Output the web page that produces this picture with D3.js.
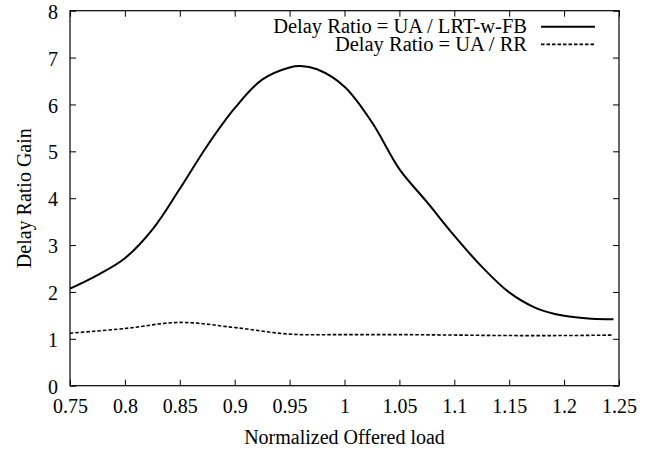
<!DOCTYPE html>
<html>
<head>
<meta charset="utf-8">
<script src="https://cdn.jsdelivr.net/npm/d3@7"></script>
</head>
<body style="margin:0;background:#fff">
<svg id="chart" width="660" height="451"></svg>
<script>
// offered load values and the two delay ratio curves
var loadLrt = [0.75, 0.775, 0.8, 0.825, 0.85, 0.875, 0.9, 0.925, 0.95, 0.96, 0.975, 1.0, 1.025, 1.05, 1.075, 1.1, 1.125, 1.15, 1.175, 1.2, 1.225, 1.245];
var ratioLrt = [2.07, 2.36, 2.72, 3.33, 4.20, 5.12, 5.92, 6.53, 6.79, 6.82, 6.75, 6.38, 5.62, 4.62, 3.92, 3.20, 2.54, 1.99, 1.65, 1.49, 1.43, 1.42];
var loadRr = [0.75, 0.8, 0.85, 0.9, 0.95, 1.0, 1.05, 1.1, 1.15, 1.2, 1.245];
var ratioRr = [1.12, 1.22, 1.35, 1.24, 1.10, 1.09, 1.09, 1.08, 1.07, 1.07, 1.08];
var xTicks = [0.75, 0.8, 0.85, 0.9, 0.95, 1, 1.05, 1.1, 1.15, 1.2, 1.25];
var yTicks = [0, 1, 2, 3, 4, 5, 6, 7, 8];
var seriesNames = ["Delay Ratio = UA / LRT-w-FB", "Delay Ratio = UA / RR"];

var FONT = "Liberation Serif";

var svg = d3.select("#chart").attr("font-family", FONT),
    margin = {top: 10.7, right: 41, bottom: 65.3, left: 70},
    width = 660 - margin.left - margin.right,
    height = 451 - margin.top - margin.bottom,
    tickLen = 6;

var x = d3.scaleLinear().domain([0.75, 1.25]).range([0, width]);
var y = d3.scaleLinear().domain([0, 8]).range([height, 0]);

var g = svg.append("g")
    .attr("transform", "translate(" + margin.left + "," + margin.top + ")");

// axes: labels outside, ticks pointing inward (gnuplot style)
var fmt = function(d) { return String(d); };

var xAxis = g.append("g")
    .attr("transform", "translate(0," + height + ")")
    .call(d3.axisBottom(x).tickValues(xTicks).tickFormat(fmt).tickSizeInner(-tickLen).tickSizeOuter(0).tickPadding(13));
var xTop = g.append("g")
    .call(d3.axisTop(x).tickValues(xTicks).tickFormat("").tickSizeInner(-tickLen).tickSizeOuter(0));
var yAxis = g.append("g")
    .call(d3.axisLeft(y).tickValues(yTicks).tickFormat(fmt).tickSizeInner(-tickLen).tickSizeOuter(0).tickPadding(12));
var yRight = g.append("g")
    .attr("transform", "translate(" + width + ",0)")
    .call(d3.axisRight(y).tickValues(yTicks).tickFormat("").tickSizeInner(-tickLen).tickSizeOuter(0));

[xAxis, xTop, yAxis, yRight].forEach(function(a) {
    a.attr("font-family", FONT).attr("font-size", 20);
    a.select(".domain").remove();
    a.selectAll("line").attr("stroke", "#000").attr("stroke-width", 1);
    a.selectAll("text").attr("fill", "#000");
});
yAxis.selectAll("text").attr("dy", "0.38em");

// frame
g.append("rect")
    .attr("x", 0).attr("y", 0)
    .attr("width", width).attr("height", height)
    .attr("fill", "none")
    .attr("stroke", "#000")
    .attr("stroke-width", 1.2);

var line = d3.line()
    .x(function(d) { return x(d[0]); })
    .y(function(d) { return y(d[1]); })
    .curve(d3.curveCatmullRom.alpha(0.5));

var lrt = d3.zip(loadLrt, ratioLrt),
    rr = d3.zip(loadRr, ratioRr);

g.append("path")
    .datum(lrt)
    .attr("d", line)
    .attr("fill", "none")
    .attr("stroke", "#000")
    .attr("stroke-width", 2);

g.append("path")
    .datum(rr)
    .attr("d", line)
    .attr("fill", "none")
    .attr("stroke", "#000")
    .attr("stroke-width", 1.6)
    .attr("stroke-dasharray", "3.5,2");

// key in the top right corner
var key = g.append("g").attr("class", "key");
seriesNames.forEach(function(name, i) {
    var ky = 16 + i * 17.7;
    key.append("text")
        .attr("x", 457)
        .attr("y", ky)
        .attr("dy", "0.33em")
        .attr("text-anchor", "end")
        .attr("font-size", 20.5)
        .attr("font-family", FONT)
        .text(name);
    key.append("line")
        .attr("x1", 471).attr("x2", 525)
        .attr("y1", ky).attr("y2", ky)
        .attr("stroke", "#000")
        .attr("stroke-width", i === 0 ? 2 : 1.6)
        .attr("stroke-dasharray", i === 0 ? null : "3.5,2");
});

// axis titles
svg.append("text")
    .attr("transform", "translate(" + (margin.left + width / 2) + "," + 444 + ")")
    .attr("text-anchor", "middle")
    .attr("font-size", 20)
    .attr("font-family", FONT)
    .text("Normalized Offered load");

svg.append("text")
    .attr("transform", "translate(31," + (margin.top + height / 2) + ") rotate(-90)")
    .attr("text-anchor", "middle")
    .attr("font-size", 20)
    .attr("font-family", FONT)
    .text("Delay Ratio Gain");
</script>
</body>
</html>
